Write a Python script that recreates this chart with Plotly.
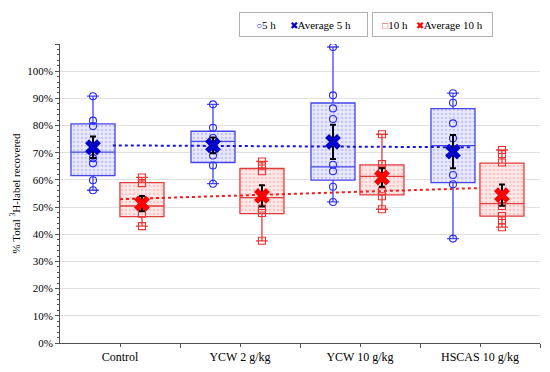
import plotly.graph_objects as go

# ---------------- data ----------------
categories = ["Control", "YCW 2 g/kg", "YCW 10 g/kg", "HSCAS 10 g/kg"]
cat_pos = [0, 1, 2, 3]

# individual observations (%)
points_5h = [
    [90.8, 81.8, 79.8, 72.4, 68.0, 66.1, 59.9, 56.2],
    [87.8, 79.2, 75.4, 69.0, 65.3, 58.6],
    [108.9, 91.1, 86.3, 82.4, 65.6, 63.2, 57.5, 51.9],
    [91.9, 88.4, 80.8, 75.3, 61.8, 58.4, 38.4],
]
points_10h = [
    [60.9, 58.8, 52.5, 50.4, 47.6, 43.0],
    [66.8, 65.0, 63.2, 49.5, 47.8, 37.6],
    [76.8, 65.8, 63.8, 55.8, 54.0, 49.2],
    [71.0, 69.5, 66.4, 50.4, 46.7, 45.1, 42.6],
]

# box statistics (%)
q1_5h = [61.6, 66.4, 59.9, 59.0]
med_5h = [70.2, 74.2, 64.8, 72.6]
q3_5h = [80.6, 77.9, 88.3, 86.2]
lo_5h = [56.2, 58.6, 51.9, 38.4]
hi_5h = [90.8, 87.8, 108.9, 91.9]

q1_10h = [46.5, 47.6, 54.5, 46.7]
med_10h = [50.4, 53.5, 61.3, 51.3]
q3_10h = [59.0, 64.2, 65.5, 66.2]
lo_10h = [43.0, 37.6, 49.2, 42.6]
hi_10h = [60.9, 66.8, 76.8, 71.0]

# averages and error bars (%)
avg_5h = [72.0, 72.7, 74.0, 70.4]
err_5h = [3.95, 2.9, 6.3, 6.1]
avg_10h = [51.3, 54.1, 60.9, 54.4]
err_10h = [2.8, 3.9, 3.4, 3.9]

# dotted trend lines (start / end values, %)
trend_5h = [72.7, 72.0]
trend_10h = [52.9, 57.0]

y_tick_vals = [0, 10, 20, 30, 40, 50, 60, 70, 80, 90, 100, 110]
y_tick_text = ["0%", "10%", "20%", "30%", "40%", "50%", "60%", "70%", "80%", "90%", "100%", ""]

legend_labels = ["5 h", "Average 5 h", "10 h", "Average 10 h"]

# ---------------- styling ----------------
FONT = "Liberation Serif"
OFF_5H = -0.225
OFF_10H = 0.183
BOX_W = 0.367
TREND5_SHIFT = -0.06

BLUE_LINE = "rgb(70,70,235)"
BLUE_PT = "rgb(40,40,255)"
BLUE_AVG = "rgb(0,0,200)"
RED_LINE = "rgb(225,60,60)"
RED_PT = "rgb(240,50,50)"
RED_AVG = "rgb(255,0,0)"

# page body has an 8px default margin: figure is sized/placed to compensate
FIG_W, FIG_H = 534, 356
M_L, M_R, M_T, M_B = 52, 2, 36, 21

x5 = [p + OFF_5H for p in cat_pos]
x10 = [p + OFF_10H for p in cat_pos]

fig = go.Figure()

# patterned box bodies
for xs, q1, q3, fill, fg in [
    (x5, q1_5h, q3_5h, "rgba(228,228,255,0.85)", "rgba(90,90,255,0.55)"),
    (x10, q1_10h, q3_10h, "rgba(255,228,228,0.85)", "rgba(255,90,90,0.55)"),
]:
    fig.add_trace(go.Bar(
        x=xs, y=[b - a for a, b in zip(q1, q3)], base=q1, width=BOX_W,
        marker=dict(color=fill, line=dict(width=0),
                    pattern=dict(shape=".", fgcolor=fg, size=4, solidity=0.25)),
        showlegend=False, hoverinfo="skip",
    ))

# trend lines
fig.add_trace(go.Scatter(x=[cat_pos[0] + TREND5_SHIFT, cat_pos[-1] + TREND5_SHIFT], y=trend_5h,
                         mode="lines", line=dict(color="rgb(20,20,230)", width=2, dash="dot"),
                         showlegend=False, hoverinfo="skip"))
fig.add_trace(go.Scatter(x=[cat_pos[0], cat_pos[-1]], y=trend_10h, mode="lines",
                         line=dict(color="rgb(240,30,30)", width=2, dash="dot"),
                         showlegend=False, hoverinfo="skip"))

# box outlines, medians, whiskers
for xs, q1, med, q3, lo, hi, col in [
    (x5, q1_5h, med_5h, q3_5h, lo_5h, hi_5h, BLUE_LINE),
    (x10, q1_10h, med_10h, q3_10h, lo_10h, hi_10h, RED_LINE),
]:
    fig.add_trace(go.Box(
        x=xs, q1=q1, median=med, q3=q3, lowerfence=lo, upperfence=hi,
        width=BOX_W, whiskerwidth=0.27, boxpoints=False,
        fillcolor="rgba(0,0,0,0)", line=dict(color=col, width=1.3),
        showlegend=False, hoverinfo="skip",
    ))

# individual points
px5, py5, px10, py10 = [], [], [], []
for i, pts in enumerate(points_5h):
    px5 += [x5[i]] * len(pts)
    py5 += pts
for i, pts in enumerate(points_10h):
    px10 += [x10[i]] * len(pts)
    py10 += pts
fig.add_trace(go.Scatter(x=px5, y=py5, mode="markers",
                         marker=dict(symbol="circle-open", size=7, color=BLUE_PT, line=dict(width=1.1)),
                         showlegend=False, hoverinfo="skip"))
fig.add_trace(go.Scatter(x=px10, y=py10, mode="markers",
                         marker=dict(symbol="square-open", size=7, color=RED_PT, line=dict(width=1.1)),
                         showlegend=False, hoverinfo="skip"))

# averages with error bars
fig.add_trace(go.Scatter(x=x5, y=avg_5h, mode="markers",
                         marker=dict(symbol="x", size=14, color=BLUE_AVG, line=dict(width=0)),
                         error_y=dict(type="data", array=err_5h, color="black", thickness=2, width=3),
                         showlegend=False, hoverinfo="skip"))
fig.add_trace(go.Scatter(x=x10, y=avg_10h, mode="markers",
                         marker=dict(symbol="x", size=14, color=RED_AVG, line=dict(width=0)),
                         error_y=dict(type="data", array=err_10h, color="black", thickness=2, width=3),
                         showlegend=False, hoverinfo="skip"))


# boxed legends (two framed groups, as in the reference)
def sym(ch, col):
    return f'<span style="color:{col};font-size:10px">{ch}</span>'


legend_texts = [
    f'{sym("○", BLUE_PT)}{legend_labels[0]}&nbsp;&nbsp;&nbsp;&nbsp;&nbsp;{sym("✖", BLUE_AVG)}{legend_labels[1]}',
    f'{sym("□", RED_PT)}{legend_labels[2]}&nbsp;&nbsp;&nbsp;{sym("✖", RED_AVG)}{legend_labels[3]}',
]
legend_boxes = [(239, 368), (372, 493)]  # page-pixel extents
PLOT_X0, PLOT_W, PLOT_Y0, PLOT_H = 60, 480, 343, 299  # page-pixel plot frame
for txt, (x0, x1) in zip(legend_texts, legend_boxes):
    fig.add_annotation(
        xref="paper", yref="paper",
        x=((x0 + x1) / 2 - PLOT_X0) / PLOT_W, y=(PLOT_Y0 - 24) / PLOT_H,
        xanchor="center", yanchor="middle",
        text=txt, showarrow=False, align="center",
        width=(x1 - x0) - 12, height=13, borderpad=5,
        bordercolor="rgb(175,175,175)", borderwidth=1, bgcolor="white",
        font=dict(family=FONT, size=11, color="black"),
    )

fig.update_layout(
    width=FIG_W, height=FIG_H,
    margin=dict(l=M_L, r=M_R, t=M_T, b=M_B, autoexpand=False),
    paper_bgcolor="white", plot_bgcolor="white",
    barmode="overlay", showlegend=False,
    font=dict(family=FONT, size=11, color="black"),
    xaxis=dict(
        range=[-0.5, 3.5], tickvals=cat_pos, ticktext=categories,
        showline=True, linecolor="rgb(80,80,80)", linewidth=1,
        ticks="outside", ticklen=3, tickcolor="rgb(80,80,80)",
        minor=dict(tickvals=[0.5, 1.5, 2.5, 3.5], ticks="outside", ticklen=4,
                   tickcolor="rgb(80,80,80)", showgrid=False),
        showgrid=False, zeroline=False, automargin=False,
        tickfont=dict(family=FONT, size=12, color="black"),
    ),
    yaxis=dict(
        range=[0, 110], tickvals=y_tick_vals, ticktext=y_tick_text,
        showline=True, linecolor="rgb(80,80,80)", linewidth=1,
        ticks="outside", ticklen=4, tickcolor="rgb(80,80,80)",
        minor=dict(dtick=2, ticks="outside", ticklen=2, tickcolor="rgb(80,80,80)", showgrid=False),
        showgrid=True, gridcolor="rgb(225,225,225)", gridwidth=1, zeroline=False,
        automargin=False,
        tickfont=dict(family=FONT, size=11, color="black"),
        title=dict(text="% Total <sup>3</sup>H-label recovered",
                   font=dict(family=FONT, size=11, color="black"), standoff=10),
    ),
)

fig.write_html("out.html")
